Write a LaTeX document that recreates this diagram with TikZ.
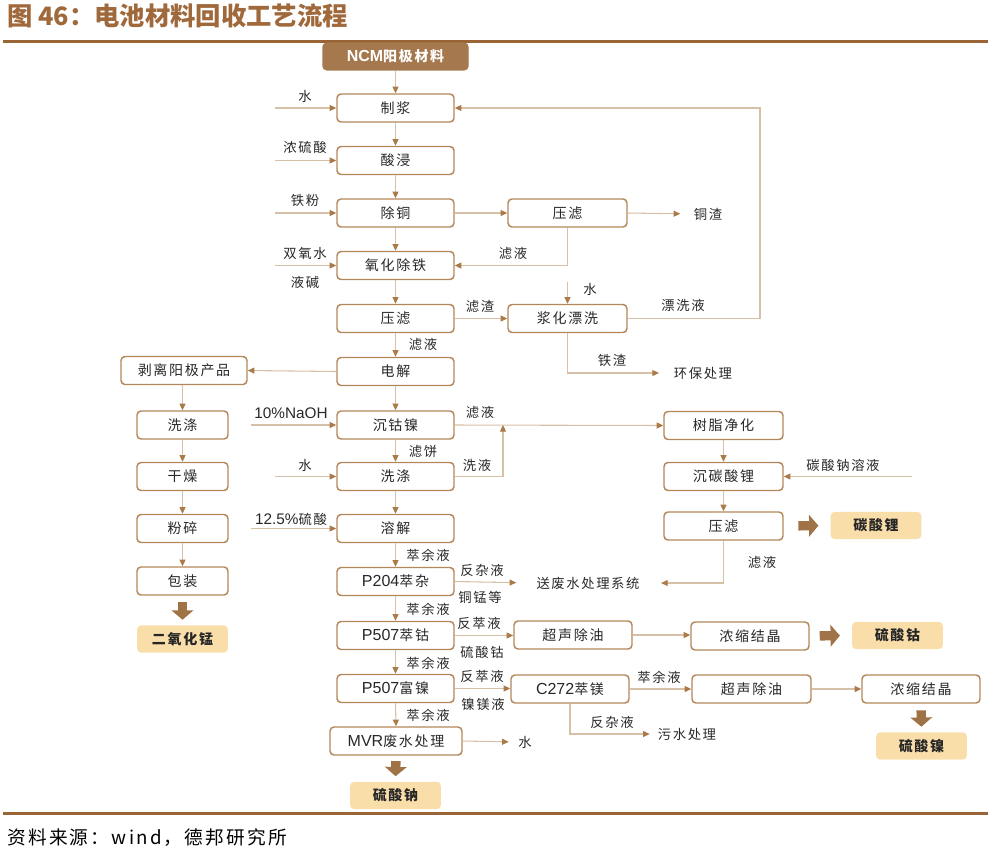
\documentclass[tikz,border=0pt]{standalone}
\usepackage{fontspec}
\setmainfont{Noto Sans CJK SC}
\newfontfamily\spc[LetterSpace=12]{Noto Sans CJK SC}
\newfontfamily\lat{Liberation Sans}
\newcommand\La[1]{{\lat\fontsize{12}{14}\selectfont #1}}
\usetikzlibrary{arrows.meta}
\definecolor{bord}{RGB}{180,135,90}
\definecolor{linec}{RGB}{215,192,168}
\definecolor{ahc}{RGB}{170,122,72}
\definecolor{titc}{RGB}{160,105,60}
\definecolor{rulec}{RGB}{155,100,55}
\definecolor{resf}{RGB}{250,222,170}
\definecolor{ncmf}{RGB}{165,120,78}
\definecolor{txt}{RGB}{40,40,40}
\definecolor{barrow}{RGB}{160,115,70}
\begin{document}
\begin{tikzpicture}[x=0.75pt,y=-0.75pt,
 box/.style={draw=bord, line width=1.1pt, rounded corners=3pt, fill=white, minimum height=21pt, inner sep=1pt, font=\spc\fontsize{10.5}{12}\selectfont, text=txt},
 mbox/.style={box, minimum width=87.75pt},
 rbox/.style={box, minimum width=89.25pt},
 lbox/.style={box, minimum width=68.25pt},
 res/.style={fill=resf, rounded corners=3pt, minimum height=20.5pt, minimum width=68pt, inner sep=1pt, font=\spc\fontsize{10.5}{12}\selectfont\bfseries, text=black!85},
 lab/.style={font=\spc\fontsize{10}{12}\selectfont, text=txt, inner sep=1pt},
 conn/.style={draw=linec, line width=0.8pt, -{Triangle[length=5pt,width=4.5pt,color=ahc]}},
 big/.style={draw=barrow, line width=7pt, -{Triangle[length=7pt,width=16pt]}}
]
\useasboundingbox (0,0) rectangle (988,854);
% title and rules
\node[anchor=west, font=\fontsize{19}{21}\selectfont\bfseries, text=titc, inner sep=0pt] (title) at (7,16) {图 46：电池材料回收工艺流程};
\draw[rulec, line width=2.25pt] (3,41) -- (988,41);
\draw[rulec, line width=2.25pt] (3,813) -- (988,813);
\node[anchor=west, font=\spc\fontsize{14}{16}\selectfont, inner sep=0pt] (src) at (7,838) {资料来源：wind，德邦研究所};

% top
\node[box, fill=ncmf, draw=ncmf, text=white, font=\spc\fontsize{10.5}{12}\selectfont\bfseries, minimum width=108.75pt, minimum height=20pt] (ncm) at (395.5,56.5) {{\lat\bfseries\fontsize{12}{14}\selectfont NCM}阳极材料};

% main column
\node[mbox] (zj) at (395.5,108) {制浆};
\node[mbox] (sj) at (395.5,160.5) {酸浸};
\node[mbox] (ct) at (395.5,213) {除铜};
\node[mbox] (yh) at (395.5,265.5) {氧化除铁};
\node[mbox] (yl) at (395.5,318.5) {压滤};
\node[mbox] (dj) at (395.5,371.5) {电解};
\node[mbox] (cg) at (395.5,425) {沉钴镍};
\node[mbox] (xd) at (395.5,476.5) {洗涤};
\node[mbox] (rj) at (395.5,528.5) {溶解};
\node[mbox] (pa) at (395.5,581.5) {\La{P204}萃杂};
\node[mbox] (pb) at (395.5,635.5) {\La{P507}萃钴};
\node[mbox] (pc) at (395.5,688.5) {\La{P507}富镍};
\node[box, minimum width=99pt] (mvr) at (396,741) {\La{MVR}废水处理};
\node[res] (na) at (395.5,795.5) {硫酸钠};

% right parts
\node[rbox] (ylc) at (567.5,213) {压滤};
\node[rbox] (jh) at (567.5,318.5) {浆化漂洗};
\node[rbox] (sz) at (723.5,425.5) {树脂净化};
\node[rbox] (ctl) at (723.5,476.5) {沉碳酸锂};
\node[rbox] (ylt) at (723.5,526) {压滤};
\node[res] (li) at (876,525.5) {碳酸锂};
\node[box, minimum width=88.5pt] (csa) at (573,635) {超声除油};
\node[box, minimum width=88.5pt] (nja) at (750,636) {浓缩结晶};
\node[res] (co) at (897.5,635.5) {硫酸钴};
\node[box, minimum width=88.5pt] (cm) at (570,689) {\La{C272}萃镁};
\node[box, minimum width=89.25pt] (csb) at (751.5,689) {超声除油};
\node[box, minimum width=88.5pt] (njb) at (921,689) {浓缩结晶};
\node[res] (ni) at (921.5,746) {硫酸镍};

% left column
\node[box, minimum width=94.5pt] (bl) at (184,370.5) {剥离阳极产品};
\node[lbox] (lxd) at (182.5,425) {洗涤};
\node[lbox] (gz) at (182.5,476.5) {干燥};
\node[lbox] (fs) at (182.5,528.5) {粉碎};
\node[lbox] (bz) at (182.5,581) {包装};
\node[res] (mn) at (182.5,639) {二氧化锰};

% end texts
\node[lab] (tz) at (708,214) {铜渣};
\node[lab] (hb) at (703,373) {环保处理};
\node[lab] (sf) at (588,583) {送废水处理系统};
\node[lab] (ws) at (687,734) {污水处理};
\node[lab] (sw) at (525,742) {水};

% input coordinates
\coordinate (i1) at (275,108);
\coordinate (i2) at (275,160.5);
\coordinate (i3) at (275,213);
\coordinate (i4) at (275,265.5);
\coordinate (i5) at (251,425);
\coordinate (i6) at (275,476.5);
\coordinate (i7) at (251,528.5);
\coordinate (i8) at (567.5,282);
\coordinate (i9) at (912,476.5);
\coordinate (rc) at (760,318.5);
\coordinate (jn) at (503,425);

% labels
\node[lab] at (305,96) {水};
\node[lab] at (305,147) {浓硫酸};
\node[lab] at (305,200) {铁粉};
\node[lab] at (305,253) {双氧水};
\node[lab] at (305,282) {液碱};
\node[lab, font=\lat\fontsize{11.5}{13}\selectfont] at (291,413) {10\%NaOH};
\node[lab] at (305,465) {水};
\node[lab] at (291,519) {{\lat\fontsize{11.5}{13}\selectfont 12.5\%}硫酸};
\node[lab] at (423,344) {滤液};
\node[lab] at (423,451) {滤饼};
\node[lab] at (428,555) {萃余液};
\node[lab] at (428,609) {萃余液};
\node[lab] at (428,663) {萃余液};
\node[lab] at (428,715) {萃余液};
\node[lab] at (513,253) {滤液};
\node[lab] at (480,306) {滤渣};
\node[lab] at (590,289) {水};
\node[lab] at (683,305) {漂洗液};
\node[lab] at (612,360) {铁渣};
\node[lab] at (480,412) {滤液};
\node[lab] at (477,465) {洗液};
\node[lab] at (843,465) {碳酸钠溶液};
\node[lab] at (762,562) {滤液};
\node[lab] at (482,570) {反杂液};
\node[lab] at (480,597) {铜锰等};
\node[lab] at (479,623) {反萃液};
\node[lab] at (482,652) {硫酸钴};
\node[lab] at (482,676) {反萃液};
\node[lab] at (483,704) {镍镁液};
\node[lab] at (659,677) {萃余液};
\node[lab] at (612,722) {反杂液};

% connectors main column
\draw[conn] (ncm.south) -- (zj.north);
\foreach \a/\b in {zj/sj, sj/ct, ct/yh, yh/yl, yl/dj, dj/cg, cg/xd, xd/rj, rj/pa, pa/pb, pb/pc, pc/mvr}
  \draw[conn] (\a.south) -- (\b.north);
\foreach \c/\n in {i1/zj, i2/sj, i3/ct, i4/yh, i5/cg, i6/xd, i7/rj}
  \draw[conn] (\c) -- (\n.west);

% right connectors
\draw[conn] (ct.east) -- (ylc.west);
\draw[conn, shorten >=9pt] (ylc.east) -- (tz.west);
\draw[conn] (ylc.south) |- (yh.east);
\draw[conn] (yl.east) -- (jh.west);
\draw[conn] (i8) -- (jh.north);
\draw[conn] (jh.east) -- (rc) |- (zj.east);
\draw[conn, shorten >=10pt] (jh.south) |- (hb.west);
\draw[conn] (dj.west) -- (bl.east);
\draw[conn] (cg.east) -- (sz.west);
\draw[conn] (xd.east) -| (jn);
\draw[conn] (sz.south) -- (ctl.north);
\draw[conn] (ctl.south) -- (ylt.north);
\draw[conn] (i9) -- (ctl.east);
\draw[conn, shorten >=15pt] (ylt.south) |- (sf.east);
\draw[conn, shorten >=14pt] (pa.east) -- (sf.west);
\draw[conn] (pb.east) -- (pb.east -| csa.west);
\draw[conn] (csa.east) -- (csa.east -| nja.west);
\draw[conn] (pc.east) -- (pc.east -| cm.west);
\draw[conn] (cm.east) -- (csb.west);
\draw[conn] (csb.east) -- (njb.west);
\draw[conn, shorten >=5pt] (cm.south) |- (ws.west);
\draw[conn, shorten >=6pt] (mvr.east) -- (sw.west);

% left chain
\draw[conn] (bl.south -| lxd.north) -- (lxd.north);
\foreach \a/\b in {lxd/gz, gz/fs, fs/bz}
  \draw[conn] (\a.south) -- (\b.north);

% big arrows
\draw[big, shorten <=5pt, shorten >=4pt] (bz.south) -- (mn.north);
\draw[big, shorten <=11pt, shorten >=9pt] (ylt.east) -- (li.west);
\draw[big, shorten <=7.5pt, shorten >=9pt] (nja.east) -- (co.west);
\draw[big, shorten <=5pt, shorten >=4pt] (njb.south) -- (ni.north);
\draw[big, shorten <=4pt, shorten >=4pt] (mvr.south) -- (na.north);
\end{tikzpicture}
\end{document}
